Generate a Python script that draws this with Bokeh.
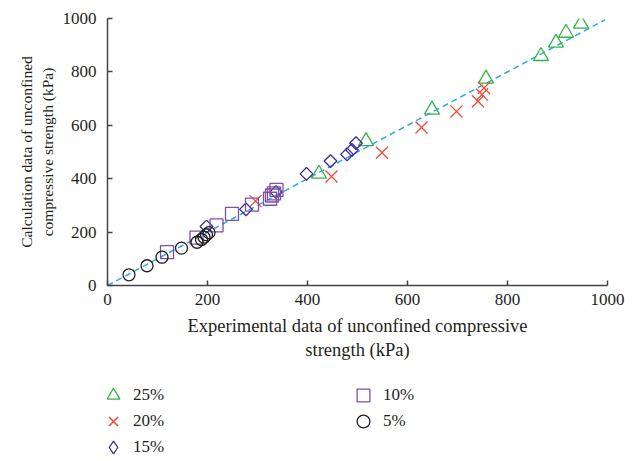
import numpy as np
from bokeh.plotting import figure
from bokeh.models import Range1d, Legend, LegendItem
from bokeh.layouts import column
from bokeh.embed import file_html
from bokeh.resources import INLINE

# ---- data (kPa) ----
tri_x = [423, 517, 649, 757, 867, 897, 917, 947]          # 25%
tri_y = [418, 540, 658, 774, 859, 909, 946, 980]
x20_x = [296, 448, 549, 628, 698, 741, 749, 753]          # 20%
x20_y = [316, 408, 497, 592, 652, 690, 715, 740]
dia_x = [198, 277, 337, 398, 446, 479, 489, 497]          # 15%
dia_y = [221, 285, 350, 418, 466, 491, 508, 533]
sq_x = [119, 178, 218, 249, 289, 325, 329, 333, 338]      # 10%
sq_y = [125, 179, 225, 268, 303, 325, 337, 345, 358]
ci_x = [43, 79, 109, 148, 179, 188, 193, 198, 203]        # 5%
ci_y = [40, 74, 106, 140, 162, 172, 181, 190, 198]
fit_x = [0, 995]
fit_y = [0, 995]
ticks = [0, 200, 400, 600, 800, 1000]
labels = ["25%", "20%", "15%", "10%", "5%"]

FONT = "Liberation Serif"
TXT = "#231F20"
C_TRI, C_X, C_DIA, C_SQ, C_CI = "#37B34A", "#EF4A36", "#3A2C95", "#7F4FA8", "#231F20"
LW = 1.3

p = figure(width=631, height=373, output_backend="svg", toolbar_location=None,
           x_range=Range1d(0, 1000), y_range=Range1d(0, 1000),
           min_border_left=107, min_border_right=24, min_border_top=18,
           min_border_bottom=88)
p.outline_line_color = None
p.grid.visible = False

for ax in (p.xaxis[0], p.yaxis[0]):
    ax.ticker = ticks
    ax.minor_tick_line_color = None
    ax.major_tick_in = 5
    ax.major_tick_out = 0
    ax.axis_line_color = "#444444"
    ax.axis_line_width = 1.5
    ax.major_tick_line_color = "#444444"
    ax.major_tick_line_width = 1.5
    ax.major_label_text_font = FONT
    ax.major_label_text_font_size = "17px"
    ax.major_label_text_color = TXT
    ax.axis_label_text_font = FONT
    ax.axis_label_text_font_style = "normal"
    ax.axis_label_text_color = TXT

p.xaxis.axis_label = "Experimental data of unconfined compressive\nstrength (kPa)"
p.yaxis.axis_label = "Calculation data of unconfined\ncompressive strength (kPa)"
p.xaxis.axis_label_text_font_size = "18.5px"
p.yaxis.axis_label_text_font_size = "15.5px"
p.xaxis.major_label_standoff = 8
p.yaxis.major_label_standoff = 11
p.xaxis.axis_label_standoff = 8
p.yaxis.axis_label_standoff = 4

p.line(fit_x, fit_y, line_color="#29ABE2", line_width=1.5, line_dash="6 4")

styles = [
    dict(marker="triangle", size=15, fill_color=None, line_color=C_TRI, line_width=LW),
    dict(marker="x", size=17, line_color=C_X, line_width=LW),
    dict(marker="square", angle=np.pi / 4, size=9, fill_color=None, line_color=C_DIA, line_width=LW),
    dict(marker="square", size=13, fill_color=None, line_color=C_SQ, line_width=LW),
    dict(marker="circle", size=12, fill_color=None, line_color=C_CI, line_width=LW),
]
series = [(tri_x, tri_y), (x20_x, x20_y), (dia_x, dia_y), (sq_x, sq_y), (ci_x, ci_y)]
renderers = [p.scatter(xs, ys, **st) for (xs, ys), st in zip(series, styles)]

# ---- legend strip below (frame aligned with the main plot) ----
p2 = figure(width=631, height=86, output_backend="svg", toolbar_location=None,
            x_range=Range1d(0, 1), y_range=Range1d(0, 1),
            x_axis_location=None, y_axis_location=None,
            min_border_left=107, min_border_right=24, min_border_top=0, min_border_bottom=0)
p2.outline_line_color = None
p2.grid.visible = False

legend_styles = list(styles)
legend_styles[1] = dict(marker="x", size=17, line_color=C_X, line_width=1.5)
legend_styles[2] = dict(marker="diamond", size=13, fill_color=None, line_color=C_DIA, line_width=LW)
legend_locs = [(-10, 48), (-10, 22), (-10, -4), (240, 48), (240, 22)]
for lab, st, loc in zip(labels, legend_styles, legend_locs):
    # key glyph: same style, one off-range sample so that the legend can draw it
    r = p2.scatter([5], [5], **st)
    lg = Legend(items=[LegendItem(label=lab, renderers=[r])], location=loc,
                glyph_width=32, glyph_height=32, padding=0, margin=0, spacing=0,
                label_standoff=4, label_text_font=FONT, label_text_font_size="17px",
                label_text_color=TXT, border_line_color=None, background_fill_alpha=0)
    p2.add_layout(lg, "center")

layout = column(p, p2, spacing=0)
open("out.html", "w").write(file_html(layout, INLINE))
